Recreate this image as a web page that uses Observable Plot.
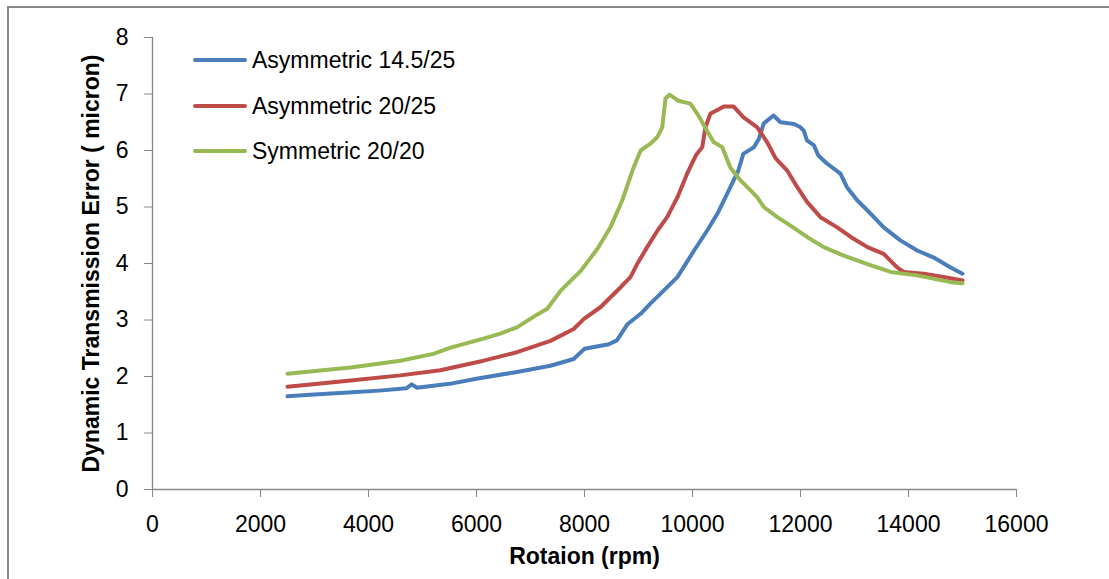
<!DOCTYPE html>
<html>
<head>
<meta charset="utf-8">
<script src="https://cdn.jsdelivr.net/npm/d3@7"></script>
<script src="https://cdn.jsdelivr.net/npm/@observablehq/plot@0.6"></script>
<style>
  html, body { margin: 0; padding: 0; background: white; }
  #wrap { position: relative; width: 1109px; height: 579px; overflow: hidden; font-family: "Liberation Sans", Arial, sans-serif; }
  #wrap svg { display: block; }
  #frame { position: absolute; left: 7px; top: 6px; width: 1200px; height: 700px; border-left: 2px solid #888; border-top: 2px solid #888; pointer-events: none; z-index: 2; }
  .leg-line { position: absolute; height: 4px; width: 54px; left: 193px; border-radius: 2px; }
  .leg-text { position: absolute; left: 252px; font-size: 23px; line-height: 28px; color: #000; white-space: nowrap; }
</style>
</head>
<body>
<div id="wrap"></div>
<script>
// ---- data ----
const seriesNames = ["Asymmetric 14.5/25", "Asymmetric 20/25", "Symmetric 20/20"];
const seriesColors = ["#4A7EBB", "#BE4B48", "#98B954"];

const rpmAsym145 = [2500, 3000, 3700, 4200, 4700, 4800, 4900, 5500, 6000, 6750, 7370, 7800, 8000, 8450, 8600, 8800, 9040, 9220, 9720, 10030, 10270, 10460, 10670, 10850, 10940, 11140, 11230, 11320, 11500, 11630, 11880, 12000, 12060, 12120, 12250, 12330, 12490, 12740, 12860, 13050, 13300, 13540, 13850, 14160, 14460, 14780, 15000];
const valAsym145 = [1.65, 1.68, 1.72, 1.75, 1.79, 1.86, 1.80, 1.87, 1.96, 2.08, 2.19, 2.31, 2.49, 2.57, 2.64, 2.93, 3.11, 3.29, 3.76, 4.23, 4.58, 4.88, 5.29, 5.65, 5.94, 6.06, 6.21, 6.48, 6.62, 6.50, 6.47, 6.41, 6.35, 6.18, 6.09, 5.91, 5.77, 5.59, 5.35, 5.12, 4.88, 4.64, 4.41, 4.23, 4.11, 3.93, 3.82];

const rpmAsym20 = [2500, 3670, 4590, 5330, 6130, 6750, 7370, 7800, 7990, 8300, 8670, 8850, 8975, 9160, 9350, 9530, 9720, 9900, 10060, 10180, 10240, 10330, 10580, 10760, 10940, 11200, 11380, 11540, 11750, 11940, 12120, 12370, 12680, 12930, 13240, 13540, 13790, 13910, 14280, 14650, 15000];
const valAsym20 = [1.82, 1.93, 2.02, 2.11, 2.28, 2.43, 2.63, 2.84, 3.02, 3.23, 3.58, 3.76, 3.99, 4.29, 4.58, 4.82, 5.17, 5.59, 5.91, 6.06, 6.41, 6.65, 6.78, 6.78, 6.59, 6.41, 6.15, 5.86, 5.65, 5.35, 5.09, 4.82, 4.64, 4.47, 4.29, 4.17, 3.93, 3.85, 3.82, 3.76, 3.70];

const rpmSym20 = [2500, 3670, 4590, 5200, 5520, 6130, 6440, 6750, 7060, 7310, 7560, 7930, 8240, 8480, 8700, 8910, 9040, 9220, 9350, 9440, 9500, 9575, 9740, 9960, 10090, 10270, 10390, 10550, 10700, 10890, 11070, 11200, 11320, 11570, 11815, 12120, 12430, 12800, 13240, 13670, 14160, 14780, 15000];
const valSym20 = [2.05, 2.16, 2.28, 2.40, 2.51, 2.67, 2.76, 2.87, 3.06, 3.20, 3.52, 3.87, 4.26, 4.64, 5.12, 5.70, 6.00, 6.12, 6.24, 6.41, 6.92, 6.99, 6.88, 6.83, 6.65, 6.35, 6.15, 6.06, 5.70, 5.47, 5.30, 5.17, 5.00, 4.82, 4.67, 4.47, 4.29, 4.14, 3.99, 3.85, 3.79, 3.67, 3.65];

const xTicks = [0, 2000, 4000, 6000, 8000, 10000, 12000, 14000, 16000];
const yTicks = [0, 1, 2, 3, 4, 5, 6, 7, 8];
const xTitle = "Rotaion (rpm)";
const yTitle = "Dynamic Transmission Error ( micron)";

// ---- build table ----
const rpmLists = [rpmAsym145, rpmAsym20, rpmSym20];
const valLists = [valAsym145, valAsym20, valSym20];
const data = [];
seriesNames.forEach((name, i) => {
  rpmLists[i].forEach((r, j) => data.push({series: name, rpm: r, value: valLists[i][j]}));
});

const chart = Plot.plot({
  width: 1109,
  height: 579,
  marginLeft: 152,
  marginRight: 93,
  marginTop: 37,
  marginBottom: 90,
  style: {fontFamily: "'Liberation Sans', Arial, sans-serif", fontSize: "23px", background: "white", color: "black", overflow: "visible"},
  x: {domain: [0, 16000]},
  y: {domain: [0, 8]},
  color: {domain: seriesNames, range: seriesColors},
  marks: [
    Plot.ruleY([0], {stroke: "#868686", strokeWidth: 1.3}),
    Plot.ruleX([0], {stroke: "#868686", strokeWidth: 1.3}),
    Plot.axisX({ticks: xTicks, tickSize: 8, tickPadding: 18, tickFormat: d => String(d), stroke: "#868686", fontSize: 23, label: null}),
    Plot.axisY({ticks: yTicks, tickSize: 8, tickPadding: 16, tickFormat: d => String(d), stroke: "#868686", fontSize: 23, label: null}),
    Plot.line(data, {x: "rpm", y: "value", z: "series", stroke: "series", strokeWidth: 4, strokeLinejoin: "round", strokeLinecap: "round"}),
    Plot.text([yTitle], {frameAnchor: "left", dx: -61, rotate: -90, textAnchor: "middle", fontWeight: "bold", fontSize: 23}),
    Plot.text([xTitle], {frameAnchor: "bottom", dy: 74, textAnchor: "middle", fontWeight: "bold", fontSize: 23})
  ]
});

const wrap = document.getElementById("wrap");
wrap.appendChild(chart);
const frame = document.createElement("div");
frame.id = "frame";
wrap.appendChild(frame);

// legend (inside the plot area, top-left)
const legendY = [60, 105.5, 151];
seriesNames.forEach((name, i) => {
  const ln = document.createElement("div");
  ln.className = "leg-line";
  ln.style.top = (legendY[i] - 2) + "px";
  ln.style.background = seriesColors[i];
  wrap.appendChild(ln);
  const tx = document.createElement("div");
  tx.className = "leg-text";
  tx.style.top = (legendY[i] - 14) + "px";
  tx.textContent = name;
  wrap.appendChild(tx);
});
</script>
</body>
</html>
